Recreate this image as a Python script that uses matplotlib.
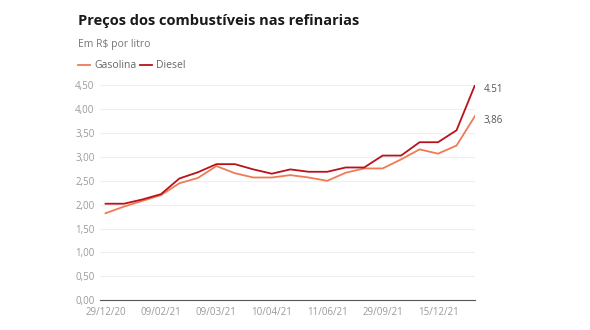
import matplotlib
matplotlib.use("Agg")
import matplotlib.pyplot as plt
import numpy as np

tick_labels = ["29/12/20", "09/02/21", "09/03/21", "10/04/21", "11/06/21", "29/09/21", "15/12/21"]
tick_every = 3

gasolina = [1.82, 1.96, 2.08, 2.20, 2.45, 2.56, 2.81, 2.66, 2.57, 2.57, 2.62,
            2.57, 2.50, 2.67, 2.76, 2.76, 2.95, 3.16, 3.07, 3.24, 3.86]
diesel = [2.02, 2.02, 2.11, 2.22, 2.55, 2.68, 2.85, 2.85, 2.74, 2.65, 2.74,
          2.69, 2.69, 2.78, 2.78, 3.03, 3.03, 3.31, 3.31, 3.56, 4.51]
yticks = [0, 0.5, 1.0, 1.5, 2.0, 2.5, 3.0, 3.5, 4.0, 4.5]

c_gas = "#f07a55"
c_die = "#b8121c"

plt.rcParams['font.family'] = ['Open Sans', 'DejaVu Sans']

W, H = 590, 330
fig = plt.figure(figsize=(W/100, H/100), dpi=100)
ax = fig.add_axes([100/W, 1-300/H, 375/W, (300-85.5)/H])

x = np.arange(len(diesel))
ax.plot(x, gasolina, color=c_gas, lw=1.3, solid_joinstyle='miter')
ax.plot(x, diesel, color=c_die, lw=1.3, solid_joinstyle='miter')

ax.set_xlim(-0.3, len(diesel)-1)
ax.set_ylim(0, 4.5)
ax.set_yticks(yticks)
ax.set_yticklabels([f"{v:.2f}".replace('.', ',') for v in yticks])
ax.set_xticks(np.arange(0, len(tick_labels)*tick_every, tick_every))
ax.set_xticklabels(tick_labels)
ax.tick_params(axis='both', length=0, labelsize=7, labelcolor="#9a9a9a", pad=4)
ax.tick_params(axis='x', pad=5)
for s in ['top', 'right', 'left']:
    ax.spines[s].set_visible(False)
ax.spines['bottom'].set_color('#555555')
ax.spines['bottom'].set_linewidth(0.8)
ax.grid(axis='y', color='#efefef', lw=0.8)
ax.set_axisbelow(True)

ax.annotate(f"{diesel[-1]:.2f}",
            xy=(x[-1], diesel[-1]), xytext=(6, -3), textcoords='offset points',
            fontsize=7, color='#555555', va='center')
ax.annotate(f"{gasolina[-1]:.2f}".replace('.', ','),
            xy=(x[-1], gasolina[-1]), xytext=(6, -3), textcoords='offset points',
            fontsize=7, color='#555555', va='center')

fig.text(78/W, 1-21/H, "Preços dos combustíveis nas refinarias", fontsize=10.5,
         fontweight='bold', color='#1a1a1a', va='center', ha='left')
fig.text(78/W, 1-45/H, "Em R$ por litro", fontsize=7.5, color='#777777', va='center', ha='left')

# legend
ly = 1-65/H
fig.add_artist(plt.Line2D([78/W, 90/W], [ly, ly], color=c_gas, lw=1.3))
fig.text(94/W, ly, "Gasolina", fontsize=7.5, color='#666666', va='center', ha='left')
fig.add_artist(plt.Line2D([140/W, 152/W], [ly, ly], color=c_die, lw=1.3))
fig.text(156/W, ly, "Diesel", fontsize=7.5, color='#666666', va='center', ha='left')

fig.savefig("out.png", dpi=100, facecolor='white')
